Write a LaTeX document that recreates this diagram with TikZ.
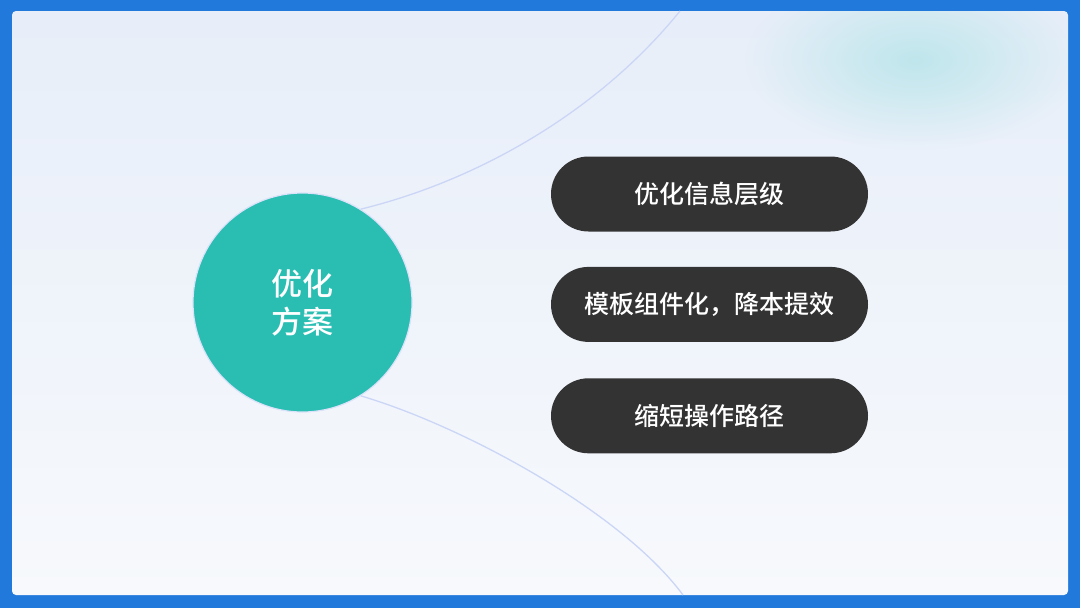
\documentclass[tikz,border=0pt]{standalone}
\usepackage{fontspec}
\setmainfont{Noto Sans CJK SC}[UprightFont=* Medium]
\usetikzlibrary{positioning,fadings}

\definecolor{frameblue}{HTML}{2279DC}
\definecolor{paneltop}{HTML}{E7EEF9}
\definecolor{panelbot}{HTML}{F7F9FC}
\definecolor{hubteal}{HTML}{2ABEB3}
\definecolor{pilldark}{HTML}{333333}
\definecolor{arcline}{HTML}{CBD6F6}
\definecolor{glow}{HTML}{BFE6EC}

\tikzfading[name=glowfade, inner color=transparent!0, outer color=transparent!100]

\tikzset{
  pill/.style={fill=pilldark, rounded corners=37.5pt, minimum width=317pt,
    minimum height=75pt, text=white, font=\fontsize{25}{30}\selectfont},
  hub/.style={circle, fill=hubteal, draw=arcline!70, line width=1.2pt,
    minimum size=219pt, text=white, align=center,
    font=\fontsize{31}{38}\selectfont},
  arc/.style={arcline, line width=1.3pt},
}

\begin{document}
\begin{tikzpicture}[x=1pt,y=-1pt]
    \useasboundingbox (0,0) rectangle (1080,608);

    % blue frame and light panel
    \fill[frameblue] (0,0) rectangle (1080,608);
    \shade[top color=paneltop, bottom color=panelbot, rounded corners=4pt] (12,11) rectangle (1068,595);
    \begin{scope}
        \clip[rounded corners=4pt] (12,11) rectangle (1068,595);
        \fill[glow, path fading=glowfade] (915,60) ellipse (170 and 90);
    \end{scope}

    \coordinate (topend) at (680,11);
    \coordinate (botend) at (683,595);

    % circle in the middle left
    \node[hub] (plan) at (302.5,302.5) {优化\\方案};

    \draw[arc] (plan.58) .. controls (480,180) and (600,110) .. (topend);
    \draw[arc] (plan.-58) .. controls (460,425) and (620,510) .. (botend);

    % the three items
    \node[pill] (level) at (709.5,194) {优化信息层级};
    \node[pill, below=35pt of level] (module) {模板组件化，降本提效};
    \node[pill, below=36pt of module] (path) {缩短操作路径};

\end{tikzpicture}
\end{document}
